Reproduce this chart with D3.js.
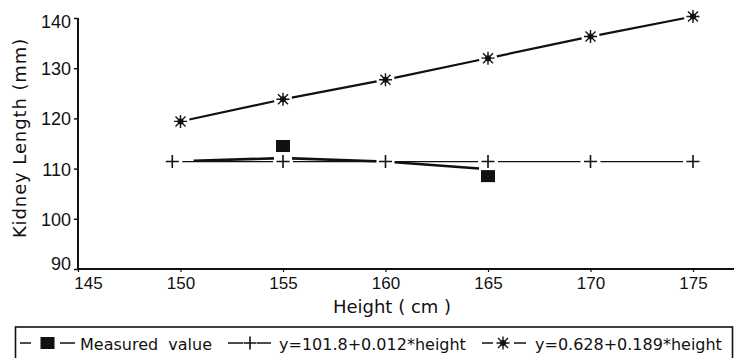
<!DOCTYPE html>
<html><head><meta charset="utf-8">
<script src="https://cdn.jsdelivr.net/npm/d3@7"></script>
<style>
html,body{margin:0;padding:0;background:#fff;}
svg{display:block;}
</style></head>
<body>
<script>
// ---- data ----
const xTicks = [145,150,155,160,165,170,175];
const yTicks = [90,100,110,120,130,140];
const plusHeights = [149.6,155,160,165,170,175];
const plusValues  = [111.4,111.4,111.4,111.4,111.4,111.4];
const starHeights = [150,155,160,165,170,175];
const starValues  = [119.4,123.8,127.7,132.0,136.3,140.3];
const measHeights = [155,165];
const measValues  = [114.5,108.5];
const measLineHeights = [150.2,155,160,165];
const measLineValues  = [111.5,112.1,111.4,109.9];
const legendLabels = ["Measured  value","y=101.8+0.012*height","y=0.628+0.189*height"];
const xTitle = "Height ( cm )";
const yTitle = "Kidney Length (mm)";

const W = 734, H = 358;
const svg = d3.select("body").append("svg").attr("width", W).attr("height", H);

const x = d3.scaleLinear().domain([145,177]).range([78,734]);
const y = d3.scaleLinear().domain([90,140]).range([269,18]);
const ink = "#111";

// axes
const yAxis = svg.append("g").attr("transform","translate(78,0)")
  .call(d3.axisLeft(y).tickValues(yTicks).tickSize(4).tickPadding(3));
yAxis.select(".domain").attr("stroke",ink).attr("stroke-width",2).attr("d","M0,18V269");
yAxis.selectAll(".tick line").attr("stroke",ink).attr("stroke-width",1.5);
yAxis.selectAll(".tick text").attr("font-family","'Liberation Sans', Arial, sans-serif")
  .attr("font-size",18).attr("fill",ink)
  .attr("dy", d => d === 90 ? "0.0em" : (d === 140 ? "0.5em" : "0.36em"));

const xAxis = svg.append("g").attr("transform","translate(0,269)")
  .call(d3.axisBottom(x).tickValues(xTicks).tickSize(3).tickPadding(4));
xAxis.select(".domain").attr("stroke",ink).attr("stroke-width",2).attr("d","M78,0H734");
xAxis.selectAll(".tick line").attr("stroke",ink).attr("stroke-width",1.2);
xAxis.selectAll(".tick text").attr("font-family","'Liberation Sans', Arial, sans-serif")
  .attr("font-size",17).attr("fill",ink).attr("dy","0.78em")
  .attr("dx", d => d === 145 ? 10 : 0);

// titles
svg.append("text").attr("x",392).attr("y",313).attr("text-anchor","middle")
  .attr("font-family","'DejaVu Sans', sans-serif").attr("font-size",18).attr("fill",ink).text(xTitle);
svg.append("text").attr("transform","translate(26,138) rotate(-90)").attr("text-anchor","middle")
  .attr("font-family","'DejaVu Sans', sans-serif").attr("font-size",18).attr("letter-spacing",0.9)
  .attr("fill",ink).text(yTitle);

// gapped line segments helper
function gapped(hs, vs, gap){
  const pts = hs.map((h,i)=>[x(h), y(vs[i])]);
  const out = [];
  for(let i=0;i<pts.length-1;i++){
    const [x0,y0]=pts[i],[x1,y1]=pts[i+1];
    const dx=x1-x0, dy=y1-y0, L=Math.hypot(dx,dy), ux=dx/L, uy=dy/L;
    out.push([[x0+ux*gap,y0+uy*gap],[x1-ux*gap,y1-uy*gap]]);
  }
  return out;
}
const lineGen = d3.line();

// + series line
svg.append("g").selectAll("path").data(gapped(plusHeights,plusValues,10)).join("path")
  .attr("d",lineGen).attr("stroke",ink).attr("stroke-width",1.3).attr("fill","none");
// measured line
svg.append("g").selectAll("path").data(gapped(measLineHeights,measLineValues,9)).join("path")
  .attr("d",lineGen).attr("stroke",ink).attr("stroke-width",2.6).attr("fill","none");
// star series line
svg.append("g").selectAll("path").data(gapped(starHeights,starValues,9)).join("path")
  .attr("d",lineGen).attr("stroke",ink).attr("stroke-width",2.2).attr("fill","none");

// markers
const plusPath = "M-6.5,0H6.5M0,-6.5V6.5";
const starPath = "M0,-6.5V6.5M-5,-5L5,5M-5,5L5,-5M-6.5,0H6.5";
function drawPlus(g, cx, cy){
  g.append("path").attr("transform",`translate(${cx},${cy})`).attr("d",plusPath)
    .attr("stroke",ink).attr("stroke-width",1.6).attr("fill","none");
}
function drawStar(g, cx, cy){
  const s = g.append("g").attr("transform",`translate(${cx},${cy})`);
  s.append("path").attr("d",starPath).attr("stroke",ink).attr("stroke-width",1.4).attr("fill","none");
  s.append("circle").attr("r",3).attr("fill",ink);
}
function drawSquare(g, cx, cy){
  g.append("rect").attr("x",cx-7).attr("y",cy-6).attr("width",14).attr("height",12).attr("fill",ink);
}
const mk = svg.append("g");
plusHeights.forEach((h,i)=>drawPlus(mk, x(h), y(plusValues[i])));
starHeights.forEach((h,i)=>drawStar(mk, x(h), y(starValues[i])));
measHeights.forEach((h,i)=>drawSquare(mk, x(h), y(measValues[i])));

// legend
const lg = svg.append("g");
lg.append("rect").attr("x",15.5).attr("y",327).attr("width",717).attr("height",40)
  .attr("fill","none").attr("stroke",ink).attr("stroke-width",1.6);
const legendItems = [
  {cx:47.5, d1:[20,31], d2:[60,75], tx:80, draw:drawSquare},
  {cx:250, d1:[228,243], d2:[257,271], tx:279, draw:drawPlus},
  {cx:503, d1:[482,493], d2:[514,526], tx:535, draw:drawStar}
];
const ly = 343;
legendItems.forEach((it,i)=>{
  lg.append("line").attr("x1",it.d1[0]).attr("x2",it.d1[1]).attr("y1",ly).attr("y2",ly).attr("stroke",ink).attr("stroke-width",1.5);
  lg.append("line").attr("x1",it.d2[0]).attr("x2",it.d2[1]).attr("y1",ly).attr("y2",ly).attr("stroke",ink).attr("stroke-width",1.5);
  it.draw(lg, it.cx, ly);
  lg.append("text").attr("x",it.tx).attr("y",349.5).attr("font-family","'DejaVu Sans', sans-serif")
    .attr("font-size",16).attr("fill",ink).attr("xml:space","preserve").style("white-space","pre").text(legendLabels[i]);
});
</script>
</body></html>
